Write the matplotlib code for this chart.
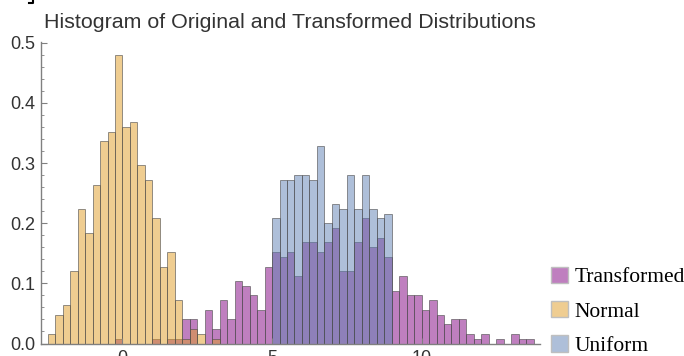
import numpy as np
import matplotlib
matplotlib.use("Agg")
import matplotlib.pyplot as plt
from matplotlib.patches import Patch
from matplotlib.lines import Line2D

# histogram densities, bin width 0.25
bin_width = 0.25

transformed_start = -0.25
transformed = [0.008, 0, 0, 0, 0, 0.008, 0, 0.008, 0.008,
               0.04, 0.04, 0.0, 0.056, 0.024, 0.072, 0.04, 0.104, 0.096, 0.08, 0.056, 0.128,
               0.152, 0.144, 0.152, 0.112, 0.168, 0.168, 0.152, 0.168,
               0.192, 0.12, 0.12, 0.168, 0.208, 0.16, 0.176, 0.144,
               0.088, 0.112, 0.08, 0.08, 0.056, 0.072, 0.048, 0.032, 0.04, 0.04,
               0.016, 0.008, 0.016, 0, 0.008, 0, 0.016, 0.008, 0.008]

normal_start = -2.5
normal = [0.016, 0.048, 0.064, 0.12, 0.224, 0.184, 0.264, 0.336, 0.352, 0.48,
          0.36, 0.368, 0.296, 0.272, 0.208, 0.128, 0.152, 0.072,
          0.008, 0.024, 0.016, 0, 0.008]

uniform_start = 5.0
uniform = [0.208, 0.272, 0.272, 0.28, 0.28, 0.272, 0.328, 0.2,
           0.232, 0.224, 0.28, 0.224, 0.28, 0.224, 0.208, 0.216]

labels = ["Transformed", "Normal", "Uniform"]
colors = [(0.5, 0.0, 0.5), (0.88, 0.611, 0.142), (0.368, 0.507, 0.71)]

fig = plt.figure(figsize=(6.84, 3.56), dpi=100)
ax = fig.add_axes([40.7 / 684, 12.5 / 356, (540 - 40.7) / 684, (343.5 - 41.7) / 356])

edge = (0.3, 0.3, 0.3, 0.6)
for start, vals, c in zip([transformed_start, normal_start, uniform_start],
                          [transformed, normal, uniform], colors):
    vals = np.array(vals)
    lefts = start + bin_width * np.arange(len(vals))
    keep = vals > 0
    ax.bar(lefts[keep], vals[keep], width=bin_width, align="edge",
           facecolor=(*c, 0.5), edgecolor=edge, linewidth=0.7)

ax.set_xlim(-2.735, 13.96)
ax.set_ylim(0, 0.5017)

for s in ["top", "right"]:
    ax.spines[s].set_visible(False)
for s in ["left", "bottom"]:
    ax.spines[s].set_color("#808080")
    ax.spines[s].set_linewidth(1.0)

ax.set_yticks(np.arange(0, 0.51, 0.1))
ax.set_yticklabels(["0.0", "0.1", "0.2", "0.3", "0.4", "0.5"])
ax.set_yticks(np.arange(0, 0.501, 0.02), minor=True)
ax.set_xticks([0, 5, 10])
ax.tick_params(axis="both", which="major", direction="in", length=4, width=0.8,
               color="#808080", labelsize=13, labelcolor="#333333", pad=4)
ax.tick_params(axis="y", which="minor", direction="in", length=2.5, width=0.6, color="#808080")
ax.tick_params(axis="x", pad=5)
for t in ax.get_xticklabels() + ax.get_yticklabels():
    t.set_fontfamily("Liberation Sans")

ax.set_title("Histogram of Original and Transformed Distributions",
             fontfamily="Liberation Sans", fontsize=15.4, color="#333333", pad=10)

handles = [Patch(facecolor=(*c, 0.5), edgecolor=(0.75, 0.75, 0.75)) for c in colors]
fig.legend(handles, labels, loc="lower left", bbox_to_anchor=(536 / 684, -15 / 356),
           frameon=False, prop={"family": "Liberation Serif", "size": 15.5},
           handlelength=0.8, handleheight=0.8, handletextpad=0.3, labelspacing=0.63,
           borderpad=0.2)

fig.add_artist(Line2D([29 / 684, 33 / 684, 33 / 684], [1 - 3 / 356, 1 - 3 / 356, 1],
                      color="black", lw=1.5))

fig.savefig("out.png", dpi=100)
